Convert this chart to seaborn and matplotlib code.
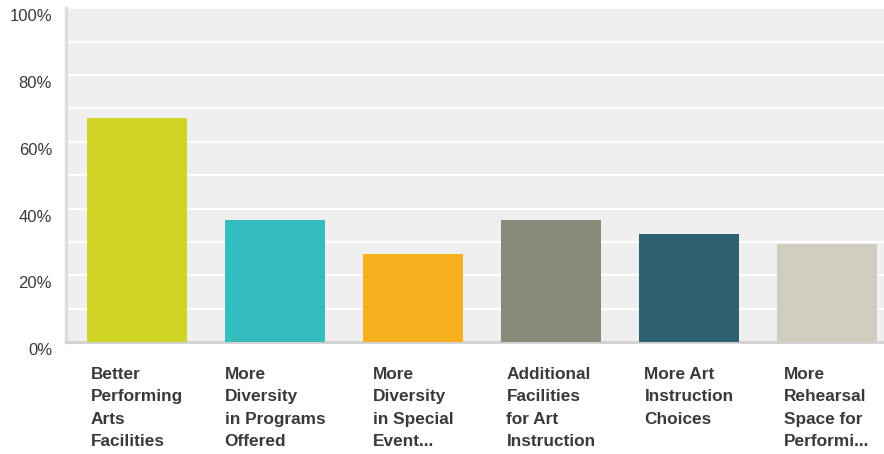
import matplotlib
matplotlib.use("Agg")
import matplotlib.pyplot as plt
import matplotlib.transforms as mtransforms
import seaborn as sns
import pandas as pd

categories = [
    "Better\nPerforming\nArts\nFacilities",
    "More\nDiversity\nin Programs\nOffered",
    "More\nDiversity\nin Special\nEvent...",
    "Additional\nFacilities\nfor Art\nInstruction",
    "More Art\nInstruction\nChoices",
    "More\nRehearsal\nSpace for\nPerformi...",
]
values = [67.1, 36.6, 26.4, 36.6, 32.4, 29.4]
colors = ["#cfd427", "#33bdbf", "#f7b01e", "#8a8a7a", "#2e6170", "#cfcdbe"]
y_ticks = [0, 20, 40, 60, 80, 100]
y_tick_labels = ["0%", "20%", "40%", "60%", "80%", "100%"]

df = pd.DataFrame({"category": categories, "value": values})

sns.set_theme(style="white")
plt.rcParams["font.family"] = ["Liberation Sans", "DejaVu Sans"]

fig = plt.figure(figsize=(8.84, 4.54), dpi=100)
ax = fig.add_axes([66 / 884, 112 / 454, 1 - 66 / 884, (342 - 8.3) / 454])
ax.set_facecolor("#efefef")

sns.barplot(data=df, x="category", y="value", hue="category",
            palette=colors, legend=False, width=0.725, saturation=1,
            linewidth=0, edgecolor="none", ax=ax, zorder=3)

ax.set_xlim(-0.514, 5.413)
ax.set_ylim(0, 100)
ax.set_yticks(y_ticks)
ax.set_yticks(range(10, 100, 20), minor=True)
ax.set_yticklabels(y_tick_labels)
ax.grid(True, axis="y", which="both", color="white", linewidth=1.6, zorder=1)
ax.set_axisbelow(True)
ax.set_xlabel("")
ax.set_ylabel("")

ax.tick_params(axis="y", which="both", length=0, pad=10, labelsize=12,
               labelcolor="#3a3a3a")
ax.tick_params(axis="x", length=0, pad=18, labelsize=12.4, labelcolor="#3a3a3a")

shift = mtransforms.ScaledTranslation(0, -7 / 100, fig.dpi_scale_trans)
for lbl in ax.get_yticklabels():
    lbl.set_transform(lbl.get_transform() + shift)

for lbl in ax.get_xticklabels():
    lbl.set_fontweight("bold")
    lbl.set_multialignment("left")
    lbl.set_linespacing(1.62)

for side in ("top", "right"):
    ax.spines[side].set_visible(False)
ax.spines["left"].set_color("#dddddd")
ax.spines["left"].set_linewidth(2.5)
ax.spines["bottom"].set_color("#d0d0d0")
ax.spines["bottom"].set_linewidth(2)

fig.savefig("out.png", dpi=100)
